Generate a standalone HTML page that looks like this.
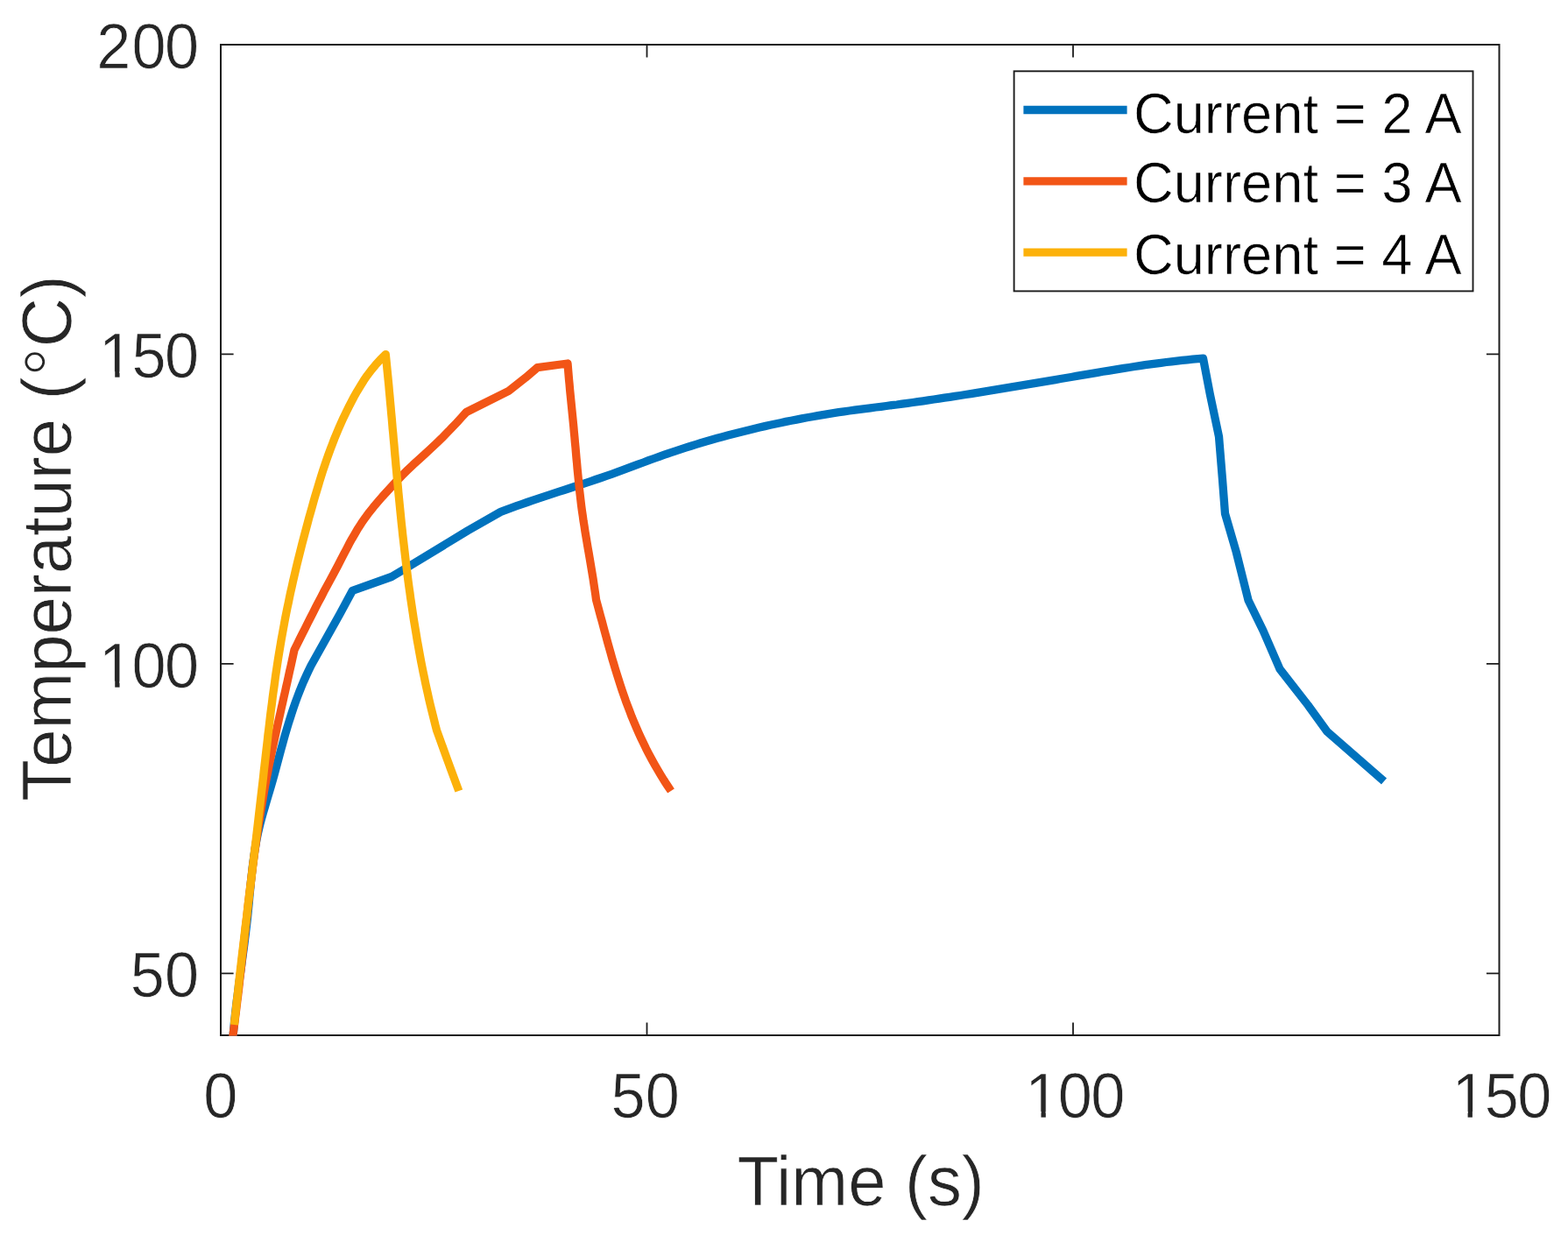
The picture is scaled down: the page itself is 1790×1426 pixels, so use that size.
<!DOCTYPE html>
<html lang="en">
<head>
<meta charset="utf-8">
<title>Temperature vs Time</title>
<style>
html,body{margin:0;padding:0;background:#fff;}
body{width:1790px;height:1426px;overflow:hidden;}
svg{display:block;}
text{font-family:"Liberation Sans",Arial,Helvetica,sans-serif;}
text{stroke:#fff;stroke-width:0.7px;}
.tick{font-size:70.3px;fill:#262626;}
.lab{font-size:77.8px;fill:#262626;}
.leg{font-size:63.35px;fill:#000;}
.deg{font-size:84px;stroke-width:1.6px;}
.curve{fill:none;stroke-width:9.3;stroke-linejoin:round;stroke-linecap:butt;}
</style>
</head>
<body>
<svg width="1790" height="1426" viewBox="0 0 1790 1426">
<rect x="0" y="0" width="1790" height="1426" fill="#fff"/>
<defs><clipPath id="plotclip"><rect x="252.0" y="51.0" width="1459.5" height="1131.7"/></clipPath></defs>

<g stroke="#1c1c1c" stroke-width="2" fill="none">
<rect x="252.0" y="51.0" width="1459.5" height="1131.0"/>
<path stroke-width="1.8" d="M738.5,1182.0V1167.4M738.5,51.0V65.6M1225.0,1182.0V1167.4M1225.0,51.0V65.6M252.0,1111.3H266.6M1711.5,1111.3H1696.9M252.0,757.9H266.6M1711.5,757.9H1696.9M252.0,404.4H266.6M1711.5,404.4H1696.9"/>
</g>
<g clip-path="url(#plotclip)">
<polyline class="curve" stroke="#0072BD" points="265.8,1186.0 266.3,1180.0 266.9,1174.0 267.4,1168.0 268.1,1162.0 268.7,1156.0 269.4,1150.0 270.1,1144.0 270.9,1138.0 271.7,1132.0 272.4,1126.0 273.2,1120.0 274.0,1114.0 274.9,1108.0 275.7,1102.0 276.5,1096.0 277.3,1090.0 278.1,1084.0 278.9,1078.0 279.6,1072.0 280.4,1066.0 281.1,1060.0 281.8,1054.0 282.5,1048.0 283.1,1042.0 283.7,1036.0 284.3,1030.0 284.8,1024.0 285.4,1018.0 286.0,1012.0 286.5,1006.0 287.2,1000.0 287.8,994.0 288.5,988.0 289.3,982.0 290.1,976.0 291.0,970.0 292.0,964.0 293.1,958.0 294.3,952.0 295.7,946.0 297.1,940.0 298.7,934.0 300.4,928.0 302.2,922.0 303.9,916.0 305.7,910.0 307.5,904.0 309.3,898.0 311.0,892.0 312.7,886.0 314.3,880.0 315.9,874.0 317.5,868.0 319.1,862.0 320.7,856.0 322.4,850.0 324.0,844.0 325.7,838.0 327.5,832.0 329.3,826.0 331.2,820.0 333.1,814.0 335.1,808.0 337.2,802.0 339.4,796.0 341.7,790.0 344.1,784.0 346.6,778.0 349.3,772.0 352.1,766.0 355.0,760.0 388.0,701.0 402.4,674.3 447.0,658.5 463.0,649.0 534.1,605.8 571.6,584.4 577.6,582.1 583.7,579.9 589.7,577.7 595.7,575.6 601.7,573.5 607.8,571.4 613.8,569.4 619.8,567.4 625.9,565.4 631.9,563.4 637.9,561.4 644.0,559.5 650.0,557.5 656.0,555.5 662.0,553.5 668.1,551.6 674.1,549.6 680.1,547.5 686.2,545.5 692.2,543.4 698.2,541.3 704.2,539.1 710.3,536.9 716.3,534.7 722.3,532.4 728.4,530.2 734.4,528.0 740.4,525.7 746.5,523.5 752.5,521.3 758.5,519.2 764.5,517.1 770.6,515.1 776.6,513.1 782.6,511.1 788.7,509.2 794.7,507.4 800.7,505.5 806.7,503.8 812.8,502.0 818.8,500.3 824.8,498.7 830.9,497.0 836.9,495.4 842.9,493.9 848.9,492.4 855.0,490.9 861.0,489.4 867.0,488.0 873.1,486.6 879.1,485.3 885.1,484.0 891.2,482.7 897.2,481.4 903.2,480.2 909.2,479.1 915.3,477.9 921.3,476.8 927.3,475.7 933.4,474.6 939.4,473.6 945.4,472.6 951.4,471.7 957.5,470.7 963.5,469.8 969.5,469.0 975.6,468.1 981.6,467.3 987.6,466.6 993.7,465.8 999.7,465.0 1005.7,464.3 1011.7,463.5 1017.8,462.7 1023.8,462.0 1029.8,461.1 1035.9,460.3 1041.9,459.5 1047.9,458.6 1053.9,457.8 1060.0,456.9 1066.0,456.0 1072.0,455.1 1078.1,454.2 1084.1,453.3 1090.1,452.4 1096.2,451.5 1102.2,450.5 1108.2,449.6 1114.2,448.6 1120.3,447.6 1126.3,446.7 1132.3,445.7 1138.4,444.7 1144.4,443.7 1150.4,442.7 1156.4,441.7 1162.5,440.7 1168.5,439.7 1174.5,438.7 1180.6,437.6 1186.6,436.6 1192.6,435.6 1198.6,434.6 1204.7,433.6 1210.7,432.5 1216.7,431.5 1222.8,430.5 1228.8,429.4 1234.8,428.4 1240.9,427.4 1246.9,426.4 1252.9,425.4 1258.9,424.3 1265.0,423.3 1271.0,422.4 1277.0,421.4 1283.1,420.4 1289.1,419.5 1295.1,418.5 1301.1,417.6 1307.2,416.7 1313.2,415.9 1319.2,415.1 1325.3,414.3 1331.3,413.5 1337.3,412.8 1343.4,412.1 1349.4,411.4 1355.4,410.8 1361.4,410.2 1367.5,409.7 1373.5,409.2 1381.3,450.0 1391.5,498.5 1395.4,546.0 1398.5,586.4 1411.2,630.0 1425.0,685.2 1442.0,720.0 1461.0,763.8 1493.1,805.0 1515.0,835.3 1580.0,892.0"/>
<polyline class="curve" stroke="#F25516" points="265.4,1186.0 266.2,1180.0 267.0,1174.0 267.8,1168.0 268.5,1162.0 269.3,1156.0 270.0,1150.0 270.7,1144.0 271.5,1138.0 272.2,1132.0 272.9,1126.0 273.5,1120.0 274.2,1114.0 274.9,1108.0 275.6,1102.0 276.2,1096.0 276.9,1090.0 277.6,1084.0 278.2,1078.0 278.9,1072.0 279.6,1066.0 280.2,1060.0 280.9,1054.0 281.6,1048.0 282.3,1042.0 282.9,1036.0 283.6,1030.0 284.3,1024.0 285.0,1018.0 285.8,1012.0 286.5,1006.0 287.2,1000.0 288.0,994.0 288.7,988.0 289.5,982.0 290.3,976.0 291.1,970.0 292.0,964.0 292.8,958.0 293.7,952.0 294.6,946.0 295.5,940.0 296.4,934.0 297.4,928.0 298.4,922.0 299.4,916.0 300.4,910.0 301.4,904.0 302.5,898.0 303.6,892.0 304.8,886.0 306.0,880.0 307.1,874.0 308.4,868.0 309.6,862.0 310.8,856.0 312.1,850.0 313.4,844.0 314.7,838.0 316.0,832.0 317.3,826.0 318.6,820.0 320.0,814.0 321.3,808.0 322.7,802.0 324.0,796.0 325.4,790.0 326.7,784.0 328.1,778.0 329.4,772.0 330.7,766.0 332.1,760.0 333.4,754.0 334.7,748.0 336.0,742.0 339.0,736.0 342.0,729.9 345.0,723.9 348.1,717.9 351.1,711.8 354.1,705.8 357.2,699.8 360.3,693.7 363.4,687.7 366.6,681.7 369.7,675.6 373.0,669.6 376.2,663.6 379.5,657.5 382.7,651.5 385.9,645.5 389.0,639.4 392.1,633.4 395.3,627.4 398.4,621.3 401.7,615.3 405.2,609.3 408.8,603.2 412.7,597.2 416.9,591.2 421.4,585.1 426.2,579.1 431.3,573.1 436.5,567.0 442.0,561.0 447.5,555.0 453.1,548.9 458.9,542.9 465.0,536.9 471.4,530.8 478.1,524.8 484.7,518.8 491.3,512.7 497.7,506.7 503.9,500.7 509.9,494.6 515.7,488.6 521.4,482.6 526.9,476.5 532.4,470.5 580.7,446.3 600.0,431.2 613.5,419.6 648.0,415.0 648.5,421.0 649.0,427.0 649.5,433.0 650.1,439.0 650.6,445.0 651.2,451.0 651.8,457.0 652.4,463.0 653.0,469.0 653.6,475.0 654.2,481.0 654.8,487.0 655.3,493.0 655.9,499.0 656.4,505.0 657.0,511.0 657.5,517.0 658.0,523.0 658.6,529.0 659.1,535.0 659.7,541.0 660.3,547.0 660.9,553.1 661.5,559.1 662.2,565.1 662.9,571.1 663.6,577.1 664.4,583.1 665.3,589.1 666.1,595.1 667.1,601.1 668.0,607.1 669.0,613.1 670.0,619.1 671.0,625.1 672.1,631.1 673.1,637.1 674.1,643.1 675.1,649.1 676.1,655.1 677.1,661.1 678.0,667.1 678.9,673.1 679.8,679.1 680.6,685.1 682.3,691.2 683.9,697.2 685.5,703.3 687.2,709.3 688.8,715.4 690.4,721.4 692.1,727.5 693.7,733.5 695.4,739.6 697.1,745.6 698.8,751.7 700.6,757.7 702.4,763.8 704.3,769.8 706.2,775.9 708.1,781.9 710.1,788.0 712.2,794.0 714.3,800.1 716.6,806.2 718.9,812.2 721.2,818.3 723.7,824.3 726.3,830.4 728.9,836.4 731.7,842.5 734.6,848.5 737.5,854.6 740.6,860.6 743.9,866.7 747.2,872.7 750.7,878.8 754.3,884.8 758.0,890.9 761.9,896.9 766.0,903.0"/>
<polyline class="curve" stroke="#FCB10A" points="267.4,1170.0 268.0,1164.0 268.7,1157.9 269.4,1151.9 270.0,1145.9 270.7,1139.9 271.4,1133.8 272.1,1127.8 272.7,1121.8 273.4,1115.8 274.1,1109.7 274.8,1103.7 275.5,1097.7 276.2,1091.7 276.9,1085.6 277.7,1079.6 278.4,1073.6 279.1,1067.5 279.8,1061.5 280.5,1055.5 281.3,1049.5 282.0,1043.4 282.7,1037.4 283.4,1031.4 284.2,1025.4 284.9,1019.3 285.6,1013.3 286.4,1007.3 287.1,1001.3 287.8,995.2 288.5,989.2 289.3,983.2 290.0,977.1 290.7,971.1 291.4,965.1 292.2,959.1 292.9,953.0 293.6,947.0 294.3,941.0 295.0,935.0 295.7,928.9 296.4,922.9 297.1,916.9 297.8,910.8 298.5,904.8 299.2,898.8 299.9,892.8 300.6,886.7 301.2,880.7 301.9,874.7 302.6,868.7 303.3,862.6 304.0,856.6 304.7,850.6 305.4,844.6 306.0,838.5 306.8,832.5 307.5,826.5 308.2,820.4 308.9,814.4 309.7,808.4 310.5,802.4 311.2,796.3 312.0,790.3 312.9,784.3 313.7,778.3 314.5,772.2 315.4,766.2 316.3,760.2 317.2,754.2 318.2,748.1 319.2,742.1 320.2,736.1 321.2,730.0 322.3,724.0 323.4,718.0 324.5,712.0 325.6,705.9 326.8,699.9 328.0,693.9 329.3,687.9 330.5,681.8 331.8,675.8 333.2,669.8 334.5,663.8 335.9,657.7 337.3,651.7 338.7,645.7 340.2,639.6 341.7,633.6 343.2,627.6 344.7,621.6 346.3,615.5 347.9,609.5 349.5,603.5 351.1,597.5 352.7,591.4 354.4,585.4 356.1,579.4 357.8,573.3 359.5,567.3 361.3,561.3 363.1,555.3 364.9,549.2 366.8,543.2 368.7,537.2 370.7,531.2 372.8,525.1 374.9,519.1 377.1,513.1 379.4,507.1 381.7,501.0 384.2,495.0 386.7,489.0 389.4,482.9 392.1,476.9 395.0,470.9 398.0,464.9 401.1,458.8 404.3,452.8 407.7,446.8 411.3,440.8 415.1,434.7 419.2,428.7 423.7,422.7 428.7,416.7 434.2,410.6 440.3,404.6 440.9,410.6 441.5,416.7 442.1,422.7 442.7,428.8 443.3,434.8 443.9,440.9 444.4,446.9 445.0,453.0 445.5,459.0 446.1,465.1 446.6,471.1 447.2,477.2 447.7,483.2 448.2,489.3 448.8,495.3 449.3,501.4 449.9,507.4 450.4,513.5 450.9,519.5 451.5,525.6 452.0,531.6 452.6,537.7 453.1,543.7 453.7,549.7 454.3,555.8 454.8,561.8 455.4,567.9 456.0,573.9 456.6,580.0 457.2,586.0 457.8,592.1 458.4,598.1 459.1,604.2 459.7,610.2 460.4,616.3 461.1,622.3 461.8,628.4 462.5,634.4 463.2,640.5 463.9,646.5 464.7,652.6 465.4,658.6 466.2,664.7 467.0,670.7 467.9,676.8 468.7,682.8 469.6,688.9 470.5,694.9 471.4,700.9 472.3,707.0 473.3,713.0 474.3,719.1 475.3,725.1 476.3,731.2 477.4,737.2 478.5,743.3 479.6,749.3 480.7,755.4 481.9,761.4 483.1,767.5 484.4,773.5 485.6,779.6 486.9,785.6 488.3,791.7 489.6,797.7 491.0,803.8 492.5,809.8 494.0,815.9 495.5,821.9 497.0,828.0 498.6,834.0 510.5,867.0 523.8,903.0"/>
</g>
<g id="ticklabels">
<text class="tick" transform="translate(232.15,1276.20) scale(1,1.035)">0</text>
<text class="tick" transform="translate(697.60,1276.20) scale(1,1.035)">50</text>
<text class="tick" dx="3.4 -1.7 -1.7" transform="translate(1166.95,1276.20) scale(1,1.035)">100</text>
<text class="tick" dx="3.4 -1.7 -1.7" transform="translate(1654.05,1276.20) scale(1,1.035)">150</text>
<text class="tick" transform="translate(148.81,1138.31) scale(1,1.035)">50</text>
<text class="tick" dx="3.4 -1.7 -1.7" transform="translate(109.71,784.88) scale(1,1.035)">100</text>
<text class="tick" dx="3.4 -1.7 -1.7" transform="translate(109.71,431.44) scale(1,1.035)">150</text>
<text class="tick" dx="0.6 1.1 -1.7" transform="translate(109.71,78.00) scale(1,1.035)">200</text>
<g fill="#fff"><rect x="1173.87" y="1268.96" width="14.62" height="8.64"/><rect x="1193.79" y="1268.96" width="13.37" height="8.64"/><rect x="1660.97" y="1268.96" width="14.62" height="8.64"/><rect x="1680.89" y="1268.96" width="13.37" height="8.64"/><rect x="116.62" y="777.64" width="14.62" height="8.64"/><rect x="136.55" y="777.64" width="13.37" height="8.64"/><rect x="116.62" y="424.20" width="14.62" height="8.64"/><rect x="136.55" y="424.20" width="13.37" height="8.64"/></g>
</g>
<text class="lab" text-anchor="middle" transform="translate(982.60,1376.20) scale(1,1.03)">Time (s)</text>
<text class="lab" dx="0 0 0 0 0 0 0 0 0 0 0 0 0 0.5 0" dy="0 0 0 0 0 0 0 0 0 0 0 0 0 8 -8" transform="translate(81,914.75) rotate(-90) scale(1,1.03)">Temperature (<tspan class="deg">°</tspan>C)</text>
<rect x="1157.6" y="81.3" width="523.9" height="251.1" fill="#fff" stroke="#1c1c1c" stroke-width="1.9"/>
<line x1="1168.4" x2="1286.6" y1="125.5" y2="125.5" stroke="#0072BD" stroke-width="9.3"/>
<text class="leg" text-anchor="start" transform="translate(1293.90,151.85) scale(1,1.02)">Current = 2 A</text>
<line x1="1168.4" x2="1286.6" y1="206.9" y2="206.9" stroke="#F25516" stroke-width="9.3"/>
<text class="leg" text-anchor="start" transform="translate(1293.90,230.55) scale(1,1.02)">Current = 3 A</text>
<line x1="1168.4" x2="1286.6" y1="288.1" y2="288.1" stroke="#FCB10A" stroke-width="9.3"/>
<text class="leg" text-anchor="start" transform="translate(1293.90,312.50) scale(1,1.02)">Current = 4 A</text>
</svg>
</body>
</html>
